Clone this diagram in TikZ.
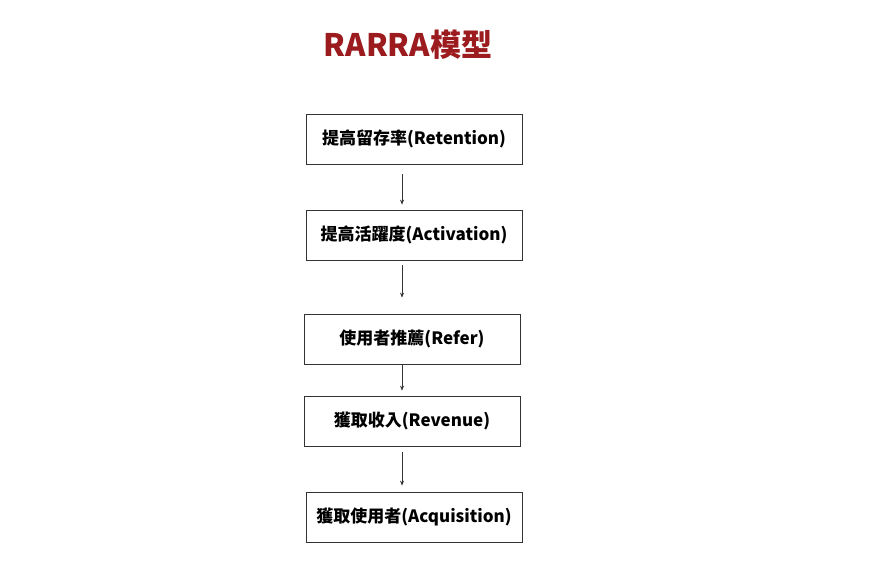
\documentclass[tikz,border=0pt]{standalone}
\usepackage{fontspec}
\newfontfamily\cjk{Noto Sans CJK TC}
\usetikzlibrary{arrows.meta}
\definecolor{titlered}{HTML}{9B1B1E}
\begin{document}
\begin{tikzpicture}[x=1pt,y=-1pt,
  box/.style={draw=black!80,line width=0.8pt,minimum width=216pt,minimum height=50pt,inner sep=0pt,font=\cjk\bfseries\fontsize{17}{20}\selectfont},
  arr/.style={-{Stealth[length=5pt,width=4pt]},line width=0.6pt,black!80}]
\useasboundingbox (0,0) rectangle (875,575);
\node[font=\cjk\bfseries\fontsize{31}{35}\selectfont,text=titlered] (title) at (408,45) {RARRA模型};
\node[box] (b1) at (414,139) {提高留存率(Retention)};
\node[box] (b2) at (414,235) {提高活躍度(Activation)};
\node[box] (b3) at (412,339) {使用者推薦(Refer)};
\node[box] (b4) at (412,421) {獲取收入(Revenue)};
\node[box] (b5) at (414,517) {獲取使用者(Acquisition)};
\draw[arr,shorten <=10pt,shorten >=5pt] ([xshift=-12pt]b1.south) -- ([xshift=-12pt]b2.north);
\draw[arr,shorten <=5pt,shorten >=16pt] ([xshift=-12pt]b2.south) -- ([xshift=-10pt]b3.north);
\draw[arr,shorten <=0pt,shorten >=5pt] ([xshift=-10pt]b3.south) -- ([xshift=-10pt]b4.north);
\draw[arr,shorten <=6pt,shorten >=6pt] ([xshift=-10pt]b4.south) -- ([xshift=-12pt]b5.north);
\end{tikzpicture}
\end{document}
